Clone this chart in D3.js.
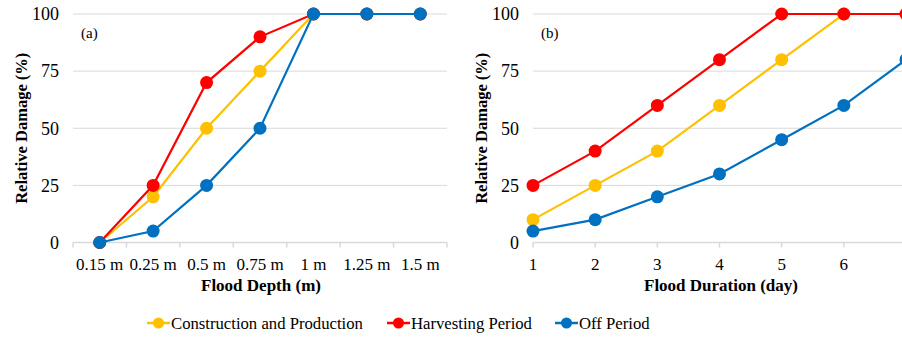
<!DOCTYPE html>
<html>
<head>
<meta charset="utf-8">
<script src="https://cdn.jsdelivr.net/npm/d3@7"></script>
<style>
  body { margin: 0; background: #fff; }
  svg { display: block; }
</style>
</head>
<body>
<svg id="chart" width="902" height="338"></svg>
<script>
// data
const depthLabels = ["0.15 m", "0.25 m", "0.5 m", "0.75 m", "1 m", "1.25 m", "1.5 m"];
const depthConstruction = [0, 20, 50, 75, 100, 100, 100];
const depthHarvesting = [0, 25, 70, 90, 100, 100, 100];
const depthOff = [0, 5, 25, 50, 100, 100, 100];

const durationDays = [1, 2, 3, 4, 5, 6, 7];
const durationConstruction = [10, 25, 40, 60, 80, 100, 100];
const durationHarvesting = [25, 40, 60, 80, 100, 100, 100];
const durationOff = [5, 10, 20, 30, 45, 60, 80];

const yTicks = [0, 25, 50, 75, 100];
const seriesNames = ["Construction and Production", "Harvesting Period", "Off Period"];
const seriesColors = ["#FFC000", "#FF0000", "#0070C0"];

// pick a serif font that is really installed
function pickFont(cands) {
    const ctx = document.createElement("canvas").getContext("2d");
    const s = "Relative Damage 0.15 m Wwil";
    ctx.font = "40px monospace"; const wm = ctx.measureText(s).width;
    ctx.font = "40px sans-serif"; const ws = ctx.measureText(s).width;
    for (const c of cands) {
        ctx.font = "40px '" + c + "', monospace"; const a = ctx.measureText(s).width;
        ctx.font = "40px '" + c + "', sans-serif"; const b = ctx.measureText(s).width;
        if (a !== wm || b !== ws) return "'" + c + "', serif";
    }
    return "serif";
}
const fontFamily = pickFont(["Liberation Serif", "Times New Roman", "DejaVu Serif", "Noto Serif", "Tinos", "Times"]);

const svg = d3.select("#chart").attr("font-family", fontFamily);
const plotTop = 14, plotBottom = 242.5;

function drawPanel(opt) {
    const g = svg.append("g");
    const y = d3.scaleLinear().domain([0, 100]).range([plotBottom, plotTop]);

    // gridlines
    g.selectAll(".grid")
        .data(yTicks.filter(d => d > 0))
        .enter().append("line")
        .attr("x1", opt.left).attr("x2", opt.right)
        .attr("y1", d => y(d)).attr("y2", d => y(d))
        .attr("stroke", "#d9d9d9").attr("stroke-width", 1);

    // y labels
    g.selectAll(".ylab")
        .data(yTicks)
        .enter().append("text")
        .attr("x", opt.left - 14)
        .attr("y", d => y(d))
        .attr("dy", "0.35em")
        .attr("text-anchor", "end")
        .attr("font-size", 18)
        .text(d => d);

    // x axis
    const xa = g.append("g").attr("transform", "translate(0," + plotBottom + ")");
    xa.append("line").attr("x1", opt.left).attr("x2", opt.right)
        .attr("stroke", "#d9d9d9").attr("stroke-width", 1.5);
    xa.selectAll(".tick")
        .data(opt.tickPos)
        .enter().append("line")
        .attr("x1", d => d).attr("x2", d => d)
        .attr("y1", 0).attr("y2", 5)
        .attr("stroke", "#d9d9d9").attr("stroke-width", 1.5);
    xa.selectAll(".xlab")
        .data(opt.labels)
        .enter().append("text")
        .attr("x", d => d.x)
        .attr("y", 27)
        .attr("text-anchor", "middle")
        .attr("font-size", 17)
        .text(d => d.t);

    // series
    const line = d3.line().x(d => d[0]).y(d => y(d[1]));
    opt.series.forEach(function(vals, i) {
        const pts = vals.map((v, j) => [opt.xpos[j], v]);
        g.append("path").datum(pts)
            .attr("d", line)
            .attr("fill", "none")
            .attr("stroke", seriesColors[i])
            .attr("stroke-width", 2.2);
        g.selectAll(".pt" + i)
            .data(pts)
            .enter().append("circle")
            .attr("cx", d => d[0]).attr("cy", d => y(d[1]))
            .attr("r", 6.5)
            .attr("fill", seriesColors[i]);
    });

    // panel letter
    g.append("text")
        .attr("x", opt.left + 8).attr("y", 38)
        .attr("font-size", 15)
        .text(opt.letter);

    // axis titles
    g.append("text")
        .attr("x", opt.titleX).attr("y", 291)
        .attr("text-anchor", "middle")
        .attr("font-size", 17).attr("font-weight", "bold")
        .text(opt.xTitle);
    g.append("text")
        .attr("transform", "translate(" + (opt.left - 46) + "," + ((plotTop + plotBottom) / 2) + ") rotate(-90)")
        .attr("text-anchor", "middle")
        .attr("font-size", 16.5).attr("font-weight", "bold")
        .text("Relative Damage (%)");
}

// (a) categorical
const xa = d3.scaleBand().domain(depthLabels).range([73, 447]);
drawPanel({
    left: 73, right: 447, letter: "(a)",
    xpos: depthLabels.map(d => xa(d) + xa.bandwidth() / 2),
    tickPos: depthLabels.map(d => xa(d)).concat([447]),
    labels: depthLabels.map(d => ({ x: xa(d) + xa.bandwidth() / 2, t: d })),
    series: [depthConstruction, depthHarvesting, depthOff],
    titleX: 261, xTitle: "Flood Depth (m)"
});

// (b) linear days
const xb = d3.scaleLinear().domain([1, 7]).range([533, 906]);
drawPanel({
    left: 533, right: 906, letter: "(b)",
    xpos: durationDays.map(d => xb(d)),
    tickPos: durationDays.map(d => xb(d)),
    labels: durationDays.slice(0, 6).map(d => ({ x: xb(d), t: d })),
    series: [durationConstruction, durationHarvesting, durationOff],
    titleX: 721, xTitle: "Flood Duration (day)"
});

// legend
const legendX = [147, 387, 555];
const legend = svg.append("g").attr("transform", "translate(0,323)");
seriesNames.forEach(function(name, i) {
    const lg = legend.append("g").attr("transform", "translate(" + legendX[i] + ",0)");
    lg.append("line").attr("x1", 0).attr("x2", 23).attr("y1", 0).attr("y2", 0)
        .attr("stroke", seriesColors[i]).attr("stroke-width", 2.5);
    lg.append("circle").attr("cx", 11.5).attr("cy", 0).attr("r", 5.5).attr("fill", seriesColors[i]);
    lg.append("text").attr("x", 24).attr("dy", "0.35em")
        .attr("font-size", 16.7)
        .text(name);
});
</script>
</body>
</html>
